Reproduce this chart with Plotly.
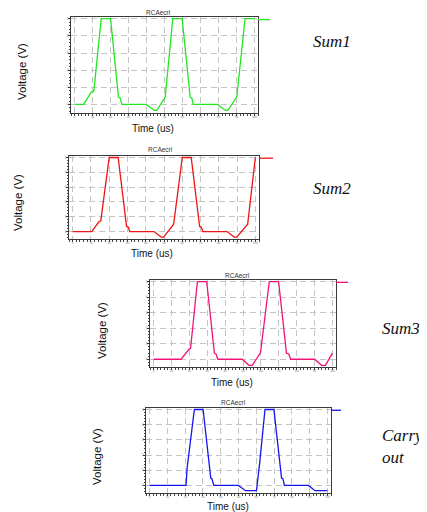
import plotly.graph_objects as go

PAGE_W, PAGE_H = 427, 512
OFF = 8  # default page body margin that shifts the figure in the browser
W, H = PAGE_W - OFF, PAGE_H - OFF

# ---------------- data (time in us, voltage in V) ----------------
x_ticks = [0, 10, 20, 30, 40, 50, 60, 70, 80, 90, 100]
y_ticks = [0, 1, 2, 3, 4, 5]

sum1_t = [0, 5, 9.3, 10.7, 14.8, 20, 24.4, 25.3, 26.3, 39.8, 44.4, 45.7, 50.4, 54.6,
          59.8, 64.3, 65.2, 66, 79.6, 83.9, 85.2, 90.2, 94.8, 100]
sum1_v = [0, 0, 0.72, 0.78, 5, 5, 0.43, 0.39, 0, 0, -0.35, -0.35, 0.43, 5,
          5, 0.43, 0.37, 0, 0, -0.35, -0.35, 0.43, 5, 5]

sum2_t = [0, 10.4, 14.5, 15.4, 20, 24.9, 29.5, 30.4, 31.3, 44.5, 48.5, 49.8, 55.3, 60,
          64.9, 69.5, 70.4, 71.3, 84.5, 88.5, 89.8, 95.8, 100]
sum2_v = [0, 0, 0.68, 0.72, 5, 5, 0.35, 0.31, 0, 0, -0.37, -0.37, 0.5, 5,
          5, 0.35, 0.31, 0, 0, -0.37, -0.37, 0.5, 5]

sum3_t = [0, 15.4, 20, 20.7, 24.5, 29.7, 34, 34.9, 35.9, 49.6, 53.3, 55.2, 59.8, 64.7,
          69.9, 74.3, 75.6, 76.6, 90.1, 93.9, 96.1, 100]
sum3_v = [0, 0, 0.67, 0.7, 5, 5, 0.39, 0.34, 0, 0, -0.39, -0.39, 0.43, 5,
          5, 0.39, 0.34, 0, 0, -0.39, -0.39, 0.39]

carry_t = [0, 20.5, 21.1, 25.2, 30.1, 34.4, 35.1, 36.1, 49.9, 54, 60.1, 61.8, 64.9,
           69.9, 74.2, 75, 75.8, 89.3, 93, 100]
carry_v = [0, 0, 1.13, 5, 5, 0.48, 0.43, 0, 0, -0.35, -0.35, 1.35, 5,
           5, 0.48, 0.43, 0, 0, -0.35, -0.35]

series = [
    ("Sum1", sum1_t, sum1_v, "#22e622"),
    ("Sum2", sum2_t, sum2_v, "#ee1515"),
    ("Sum3", sum3_t, sum3_v, "#f0147a"),
    ("Carry out", carry_t, carry_v, "#1414ee"),
]

# plot boxes in page pixels: left, right, top, bottom
boxes = [(71, 258, 17, 113), (69, 259, 156, 239), (150, 336, 280, 367), (146, 331, 408, 493)]
# label centre positions in page pixels
ylab_pos = [(22, 72), (18, 203), (102, 331), (97, 457)]
xlab_pos = [(153, 128), (152, 253), (232, 382), (228, 506)]
ttl_pos = [(158, 12.5), (160, 149), (238, 275), (233, 402)]
# text, left x, centre y
side_txt = [("<i>Sum1</i>", 312, 42), ("<i>Sum2</i>", 312, 188),
            ("<i>Sum3</i>", 381, 328), ("<i>Carry<br>out</i>", 381, 446)]
swatch_len = [12, 14, 12, 10]

fig = go.Figure()
annotations = []
shapes = []

def px(x):
    return (x - OFF) / W

def py(y):
    return 1 - (y - OFF) / H

def label(text, x, y, size, family, xanchor="center", angle=0, color="#111"):
    return dict(text=text, x=px(x), y=py(y), xref="paper", yref="paper",
                xanchor=xanchor, yanchor="middle", align="left", showarrow=False,
                textangle=angle, borderpad=0,
                font=dict(size=size, family=family, color=color))

for i, (name, t, v, col) in enumerate(series):
    n = i + 1
    xa = "x" if n == 1 else f"x{n}"
    ya = "y" if n == 1 else f"y{n}"
    fig.add_trace(go.Scatter(x=t, y=v, mode="lines", name=name,
                             line=dict(color=col, width=1.3),
                             xaxis=xa, yaxis=ya, showlegend=False))
    l, r, tp, b = boxes[i]
    common = dict(showline=True, mirror=True, linecolor="#3a3a3a", linewidth=1,
                  showgrid=True, gridcolor="#c4c4c4", gridwidth=1, griddash="6px,4px",
                  zeroline=False, ticks="outside", ticklen=2, tickcolor="#333",
                  tickfont=dict(size=3, color="#777", family="Liberation Sans"),
                  minor=dict(ticks="outside", ticklen=1.5, tickcolor="#444", showgrid=False))
    fig.update_layout(**{
        ("xaxis" if n == 1 else f"xaxis{n}"): dict(
            domain=[px(l), px(r)], anchor=ya, range=[-2, 102],
            tickvals=x_ticks, minor_dtick=2, ticklabelstandoff=-2, **common),
        ("yaxis" if n == 1 else f"yaxis{n}"): dict(
            domain=[py(b), py(tp)], anchor=xa, range=[-0.5, 5.1],
            tickvals=y_ticks, minor_dtick=0.2, ticklabelstandoff=-1, **common),
    })
    # legend swatch to the right of the box
    shapes.append(dict(type="line", xref=f"{xa} domain", yref=ya,
                       x0=1.0, x1=1.0 + swatch_len[i] / (r - l), y0=4.95, y1=4.95,
                       line=dict(color=col, width=1.3)))
    annotations.append(label("RCAecrl", ttl_pos[i][0], ttl_pos[i][1], 6.5,
                             "Liberation Sans", color="#333"))
    annotations.append(label("Time (us)", xlab_pos[i][0], xlab_pos[i][1], 10,
                             "Liberation Sans"))
    annotations.append(label("Voltage (V)", ylab_pos[i][0], ylab_pos[i][1], 11.5,
                             "Liberation Sans", angle=-90))
    st, sx, sy = side_txt[i]
    annotations.append(label(st, sx, sy, 17, "Liberation Serif", xanchor="left"))

fig.update_layout(width=W, height=H, margin=dict(l=0, r=0, t=0, b=0),
                  paper_bgcolor="white", plot_bgcolor="white",
                  annotations=annotations, shapes=shapes)

fig.write_html("out.html")
